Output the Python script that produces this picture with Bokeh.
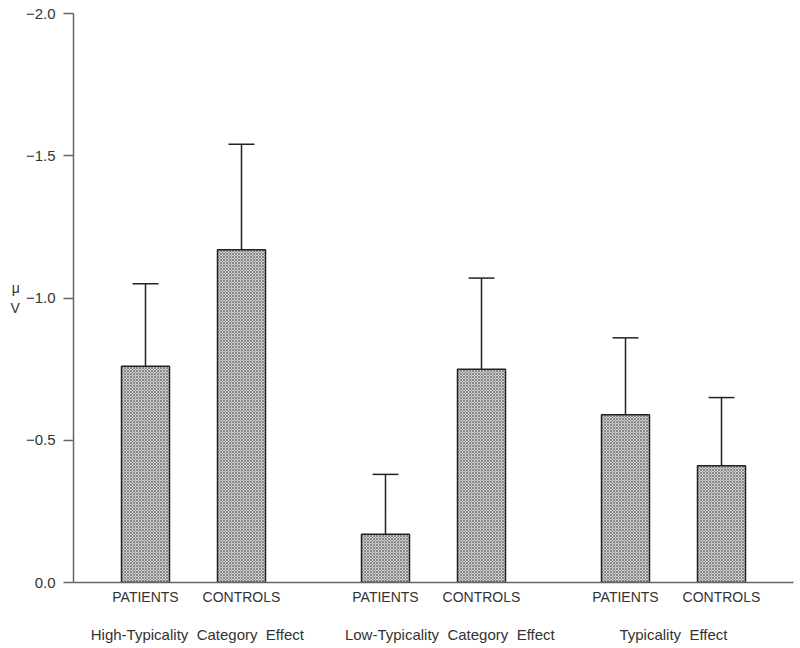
from bokeh.plotting import figure
from bokeh.models import Range1d, FixedTicker, ColumnDataSource, LinearAxis
from bokeh.embed import file_html
from bokeh.resources import INLINE

# ---- data ----
groups = ["High-Typicality  Category  Effect", "Low-Typicality  Category  Effect", "Typicality  Effect"]
categories = ["PATIENTS", "CONTROLS", "PATIENTS", "CONTROLS", "PATIENTS", "CONTROLS"]
positions = [1.0, 2.0, 3.5, 4.5, 6.0, 7.0]
group_positions = [1.54, 4.17, 6.5]
means = [-0.76, -1.17, -0.17, -0.75, -0.59, -0.41]
err_top = [-1.05, -1.54, -0.38, -1.07, -0.86, -0.65]
y_ticks = [0.0, -0.5, -1.0, -1.5, -2.0]
y_tick_labels = ["0.0", "\u22120.5", "\u22121.0", "\u22121.5", "\u22122.0"]

FONT = "Liberation Sans"
TXT = "#333333"
AX = "#666666"

p = figure(frame_width=720, frame_height=569, output_backend="svg", toolbar_location=None,
           x_range=Range1d(0.25, 7.75), y_range=Range1d(0.0, -2.0),
           min_border_left=73, min_border_top=13, min_border_right=4, min_border_bottom=60)
p.outline_line_color = None
p.grid.visible = False
p.background_fill_color = "white"

src = ColumnDataSource(dict(x=positions, m=means, e=err_top,
                            cl=[x - 0.135 for x in positions], cr=[x + 0.135 for x in positions]))

p.segment(x0="x", y0="m", x1="x", y1="e", source=src, line_color="#222222", line_width=1.5)
p.segment(x0="cl", y0="e", x1="cr", y1="e", source=src, line_color="#222222", line_width=1.5)
p.vbar(x="x", top="m", bottom=0, width=0.5, source=src,
       fill_color="#cfcfcf", line_color="#222222", line_width=1.5,
       hatch_pattern="x", hatch_scale=3, hatch_color="#5a5a5a", hatch_weight=0.6)

# y axis
p.yaxis.ticker = FixedTicker(ticks=y_ticks)
p.yaxis.major_label_overrides = {t: l for t, l in zip(y_ticks, y_tick_labels)}
p.yaxis.minor_tick_line_color = None
p.yaxis.major_tick_in = 0
p.yaxis.major_tick_out = 10
p.yaxis.axis_line_color = AX
p.yaxis.major_tick_line_color = AX
p.yaxis.axis_line_width = 1.5
p.yaxis.major_tick_line_width = 1.5
p.yaxis.major_label_text_font = FONT
p.yaxis.major_label_text_font_size = "15px"
p.yaxis.major_label_text_color = TXT
p.yaxis.major_label_standoff = 8
p.yaxis.axis_label = "\u03bc\nV"
p.yaxis.axis_label_orientation = "horizontal"
p.yaxis.axis_label_text_font = FONT
p.yaxis.axis_label_text_font_style = "normal"
p.yaxis.axis_label_text_font_size = "14px"
p.yaxis.axis_label_text_color = TXT
p.yaxis.axis_label_standoff = 3

# x axis (categories)
p.xaxis.ticker = FixedTicker(ticks=positions)
p.xaxis.major_label_overrides = {x: c for x, c in zip(positions, categories)}
p.xaxis.minor_tick_line_color = None
p.xaxis.major_tick_line_color = None
p.xaxis.axis_line_color = AX
p.xaxis.axis_line_width = 1.5
p.xaxis.major_label_text_font = FONT
p.xaxis.major_label_text_font_size = "14px"
p.xaxis.major_label_text_color = TXT
p.xaxis.major_label_standoff = 0

# second x axis (group labels)
gax = LinearAxis(ticker=FixedTicker(ticks=group_positions),
                 major_label_overrides={x: g.replace("  ", "\u00a0\u00a0") for x, g in zip(group_positions, groups)})
gax.axis_line_color = None
gax.major_tick_line_color = None
gax.minor_tick_line_color = None
gax.major_label_text_font = FONT
gax.major_label_text_font_size = "15px"
gax.major_label_text_color = TXT
gax.major_label_standoff = 12
p.add_layout(gax, "below")

open("out.html", "w").write(file_html(p, INLINE))
